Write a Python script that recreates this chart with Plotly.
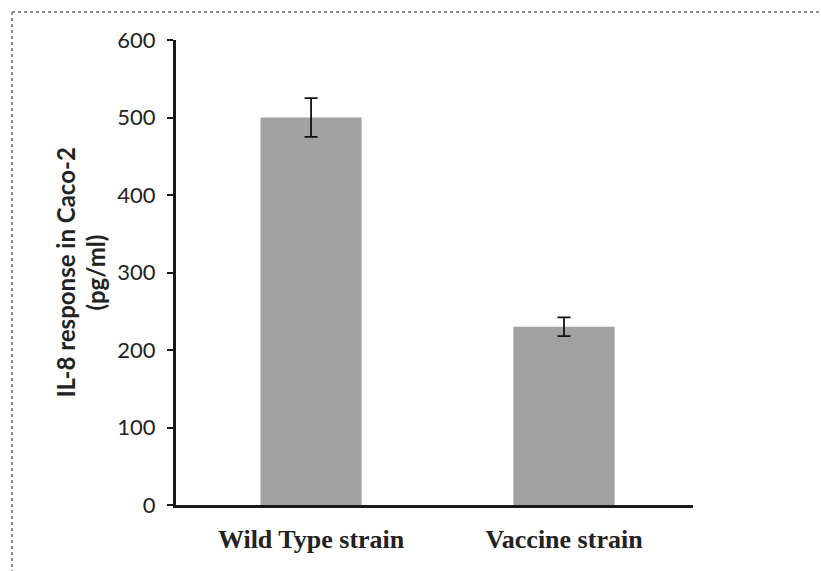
import plotly.graph_objects as go

categories = ["Wild Type strain", "Vaccine strain"]
values = [500, 230]
errors = [25, 12]
y_ticks = [0, 100, 200, 300, 400, 500, 600]
y_title_lines = ["IL-8 response in Caco-2", "(pg/ml)"]

W, H = 821, 571
L, R, T, B = 176, 128, 40, 66
pw, ph = W - L - R, H - T - B

fig = go.Figure()
fig.add_trace(go.Bar(
    x=[0, 1], y=values, width=0.4,
    marker=dict(color="#a2a2a2", line=dict(width=0)),
    error_y=dict(type="data", array=errors, visible=True, color="#111111",
                 thickness=1.8, width=6.5),
))

title_x = [65, 95]
annotations = [dict(
    text="<b>" + t + "</b>",
    xref="paper", yref="paper",
    x=(px - L) / pw, y=0.5, xanchor="center", yanchor="middle",
    textangle=-90, showarrow=False,
    font=dict(family="Lato", size=24, color="#222222"),
) for t, px in zip(y_title_lines, title_x)]

fig.update_layout(
    width=W, height=H,
    margin=dict(l=L, r=R, t=T, b=B, pad=0),
    paper_bgcolor="white", plot_bgcolor="white",
    showlegend=False,
    xaxis=dict(
        range=[-0.534, 1.51], tickvals=[0, 1],
        ticktext=["<b>" + c + "</b>" for c in categories],
        showline=True, linecolor="#1a1a1a", linewidth=3, ticks="",
        showgrid=False, zeroline=False,
        tickfont=dict(family="Liberation Serif", size=26, color="#222222"),
        ticklabelstandoff=9,
    ),
    yaxis=dict(
        range=[0, 600], tickvals=y_ticks,
        showline=True, linecolor="#1a1a1a", linewidth=3,
        ticks="outside", ticklen=6, tickwidth=2, tickcolor="#1a1a1a",
        showgrid=False, zeroline=False,
        tickfont=dict(family="Lato", size=22, color="#222222"),
        ticklabelstandoff=7,
    ),
    annotations=annotations,
    shapes=[
        dict(type="line", xref="paper", yref="paper",
             x0=(12 - L) / pw, x1=(12 - L) / pw,
             y0=(H - B - 12) / ph, y1=-1,
             line=dict(color="#8f8f8f", width=2, dash="dot")),
        dict(type="line", xref="paper", yref="paper",
             x0=(12 - L) / pw, x1=2,
             y0=(H - B - 12) / ph, y1=(H - B - 12) / ph,
             line=dict(color="#8f8f8f", width=2, dash="dot")),
    ],
)

fig.write_html("out.html")
